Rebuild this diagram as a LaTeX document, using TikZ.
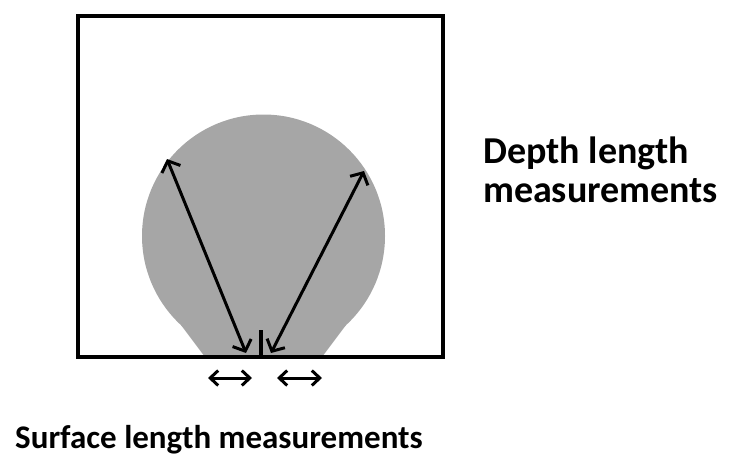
\documentclass[tikz,border=0pt]{standalone}
\usepackage{fontspec}
\setmainfont{Carlito}
\usetikzlibrary{arrows.meta}
\definecolor{blobgray}{RGB}{166,166,166}
\begin{document}
\begin{tikzpicture}[x=1pt,y=-1pt,
  frame/.style={line width=4pt,line cap=rect},
  depth/.style={{Straight Barb[length=9pt,width=20pt]}-{Straight Barb[length=9pt,width=20pt]},line width=3pt},
  surface/.style={{Straight Barb[length=8pt,width=15pt]}-{Straight Barb[length=8pt,width=15pt]},line width=3pt},
  caption/.style={inner sep=0pt,font=\bfseries}]
\useasboundingbox (0,0) rectangle (731,456);
% melt pool
\fill[blobgray] (263.5,236) circle (121.5);
\fill[blobgray] (205,357) -- (181,325) -- (346,325) -- (322,357) -- cycle;
% sample box
\draw[frame] (78,357) -- (78,16) -- (443,16) -- (443,357) -- cycle;
\draw[line width=4pt] (261,357) -- (261,330);
% depth arrows
\coordinate (baseL) at (246,353);
\coordinate (topL) at (167,159);
\coordinate (baseR) at (271,353);
\coordinate (topR) at (364,171);
\draw[depth] (baseL) -- (topL);
\draw[depth] (baseR) -- (topR);
% surface arrows
\coordinate (s1) at (208,378);
\coordinate (s2) at (252,378);
\coordinate (s3) at (277,378);
\coordinate (s4) at (322,378);
\draw[surface] (s1) -- (s2);
\draw[surface] (s3) -- (s4);
% labels
\node[caption,anchor=base west,align=left,font=\fontsize{38}{39}\selectfont\bfseries] (depthlbl) at (483,202) {Depth length\\measurements};
\node[caption,anchor=base west,font=\fontsize{33}{40}\selectfont\bfseries] (surflbl) at (15,448) {Surface length measurements};
\end{tikzpicture}
\end{document}
